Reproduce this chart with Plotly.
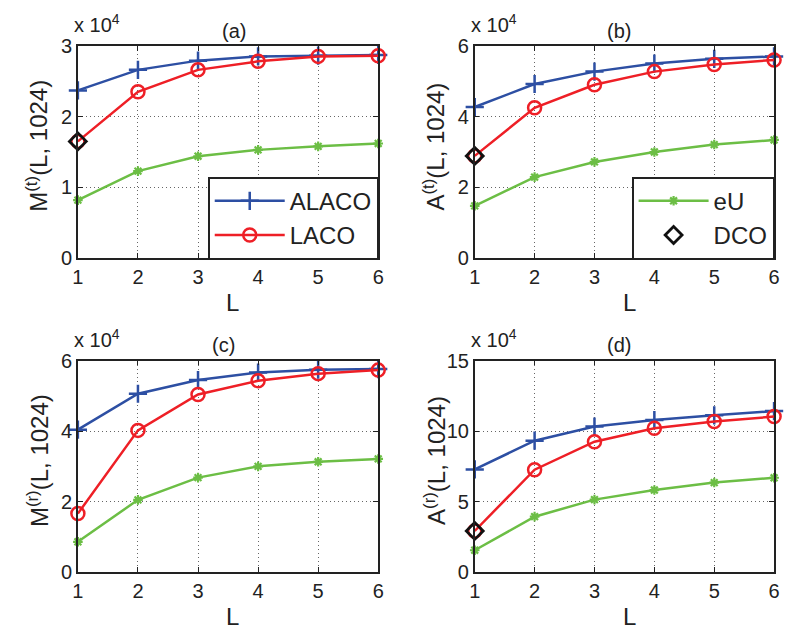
import plotly.graph_objects as go

L = [1, 2, 3, 4, 5, 6]

a_alaco = [2.37, 2.66, 2.79, 2.85, 2.86, 2.87]
a_laco = [1.65, 2.35, 2.66, 2.78, 2.85, 2.86]
a_eu = [0.82, 1.23, 1.44, 1.53, 1.58, 1.62]
a_dco = [1.65]

b_alaco = [4.27, 4.92, 5.27, 5.50, 5.63, 5.70]
b_laco = [2.89, 4.25, 4.90, 5.27, 5.47, 5.60]
b_eu = [1.48, 2.29, 2.72, 3.00, 3.21, 3.34]
b_dco = [2.89]

c_alaco = [4.04, 5.06, 5.45, 5.66, 5.74, 5.76]
c_laco = [1.66, 4.02, 5.04, 5.43, 5.63, 5.73]
c_eu = [0.86, 2.05, 2.68, 3.00, 3.13, 3.21]

d_alaco = [7.28, 9.32, 10.32, 10.78, 11.12, 11.42]
d_laco = [2.92, 7.26, 9.25, 10.20, 10.68, 11.03]
d_eu = [1.55, 3.93, 5.14, 5.82, 6.35, 6.69]
d_dco = [2.92]

panel_titles = ["(a)", "(b)", "(c)", "(d)"]
y_titles = ["M<sup>(t)</sup>(L, 1024)", "A<sup>(t)</sup>(L, 1024)",
            "M<sup>(r)</sup>(L, 1024)", "A<sup>(r)</sup>(L, 1024)"]
y_ranges = [[0, 3], [0, 6], [0, 6], [0, 15]]
y_dticks = [1, 2, 2, 5]

BLUE = "#2D4FA3"
RED = "#EE1F26"
GREEN = "#6CBE45"
BLACK = "#111111"

W, H = 786, 642
# axes boxes in pixels: left, right, top, bottom
boxes = [(73, 378, 36, 256), (476, 780, 36, 256),
         (73, 378, 362, 581), (476, 780, 362, 581)]

fig = go.Figure()

panels = [
    (a_alaco, a_laco, a_eu, a_dco),
    (b_alaco, b_laco, b_eu, b_dco),
    (c_alaco, c_laco, c_eu, None),
    (d_alaco, d_laco, d_eu, d_dco),
]

FONT = "Liberation Sans, Arial, sans-serif"

for i, (alaco, laco, eu, dco) in enumerate(panels):
    xa = "x" if i == 0 else f"x{i+1}"
    ya = "y" if i == 0 else f"y{i+1}"
    fig.add_trace(go.Scatter(
        x=L, y=eu, mode="lines+markers", name="eU",
        line=dict(color=GREEN, width=2.5),
        marker=dict(symbol="asterisk-open", size=8, color=GREEN, line=dict(color=GREEN, width=2.2)),
        xaxis=xa, yaxis=ya, cliponaxis=False,
        showlegend=(i == 1), legend="legend2"))
    fig.add_trace(go.Scatter(
        x=L, y=alaco, mode="lines+markers", name="ALACO",
        line=dict(color=BLUE, width=2.5),
        marker=dict(symbol="cross-thin-open", size=13, color=BLUE, line=dict(color=BLUE, width=2.5)),
        xaxis=xa, yaxis=ya, cliponaxis=False,
        showlegend=(i == 0), legend="legend"))
    fig.add_trace(go.Scatter(
        x=L, y=laco, mode="lines+markers", name="LACO",
        line=dict(color=RED, width=2.5),
        marker=dict(symbol="circle-open", size=13, color=RED, line=dict(color=RED, width=2.5)),
        xaxis=xa, yaxis=ya, cliponaxis=False,
        showlegend=(i == 0), legend="legend"))
    if dco is not None:
        fig.add_trace(go.Scatter(
            x=L[:len(dco)], y=dco, mode="markers", name="DCO",
            marker=dict(symbol="diamond-open", size=13, color=BLACK, line=dict(color=BLACK, width=2.8)),
            xaxis=xa, yaxis=ya, cliponaxis=False,
            showlegend=(i == 1), legend="legend2"))

layout = dict(
    width=W, height=H, margin=dict(l=0, r=0, t=0, b=0),
    paper_bgcolor="white", plot_bgcolor="white",
    font=dict(family=FONT, color="#222", size=19),
    showlegend=True,
)

annotations = []
title_pos = [(232, 21), (622, 21), (221, 346), (622, 346)]
for i, (l, r, t, b) in enumerate(boxes):
    xk = "xaxis" if i == 0 else f"xaxis{i+1}"
    yk = "yaxis" if i == 0 else f"yaxis{i+1}"
    ya = "y" if i == 0 else f"y{i+1}"
    xa = "x" if i == 0 else f"x{i+1}"
    common = dict(showline=True, linecolor="#222", linewidth=1.5, mirror="ticks",
                  ticks="inside", ticklen=5, tickcolor="#222", tickwidth=1,
                  showgrid=True, gridcolor="#666", griddash="1px,3px", gridwidth=1,
                  zeroline=False, tickfont=dict(size=20, family=FONT, color="#222"))
    layout[xk] = dict(common, domain=[l / W, r / W], range=[1, 6], dtick=1,
                      tickvals=L, anchor=ya, fixedrange=True)
    layout[yk] = dict(common, domain=[1 - b / H, 1 - t / H], range=y_ranges[i],
                      dtick=y_dticks[i], anchor=xa, fixedrange=True)
    # panel title
    tx, ty = title_pos[i]
    annotations.append(dict(text=panel_titles[i], xref="paper", yref="paper",
                            x=tx / W, y=1 - ty / H, xanchor="center", yanchor="middle",
                            showarrow=False, font=dict(size=20, family=FONT, color="#222")))
    # exponent label
    annotations.append(dict(text="x 10<sup>4</sup>", xref="paper", yref="paper",
                            x=(l - 6) / W, y=1 - (t - 8) / H, xanchor="left", yanchor="bottom",
                            showarrow=False, font=dict(size=20, family=FONT, color="#222")))
    # x title
    annotations.append(dict(text="L", xref="paper", yref="paper",
                            x=((l + r) / 2 + 5) / W, y=1 - (b + 46) / H,
                            xanchor="center", yanchor="middle",
                            showarrow=False, font=dict(size=24, family=FONT, color="#222")))
    # y title
    annotations.append(dict(text=y_titles[i], xref="paper", yref="paper",
                            x=(l - 41) / W, y=1 - ((t + b) / 2 - 6) / H,
                            xanchor="center", yanchor="middle", textangle=-90,
                            showarrow=False, font=dict(size=24, family=FONT, color="#222")))

layout["annotations"] = annotations
layout["legend"] = dict(x=378 / W, y=1 - 257 / H, xanchor="right", yanchor="bottom",
                        bgcolor="white", bordercolor="#222", borderwidth=1.5,
                        font=dict(size=24, family=FONT, color="#222"),
                        itemwidth=70, tracegroupgap=0)
layout["legend2"] = dict(x=780 / W, y=1 - 257 / H, xanchor="right", yanchor="bottom",
                         bgcolor="white", bordercolor="#222", borderwidth=1.5,
                         font=dict(size=24, family=FONT, color="#222"),
                         itemwidth=70, tracegroupgap=0, traceorder="normal")

fig.update_layout(**layout)
fig.write_html("out.html")
